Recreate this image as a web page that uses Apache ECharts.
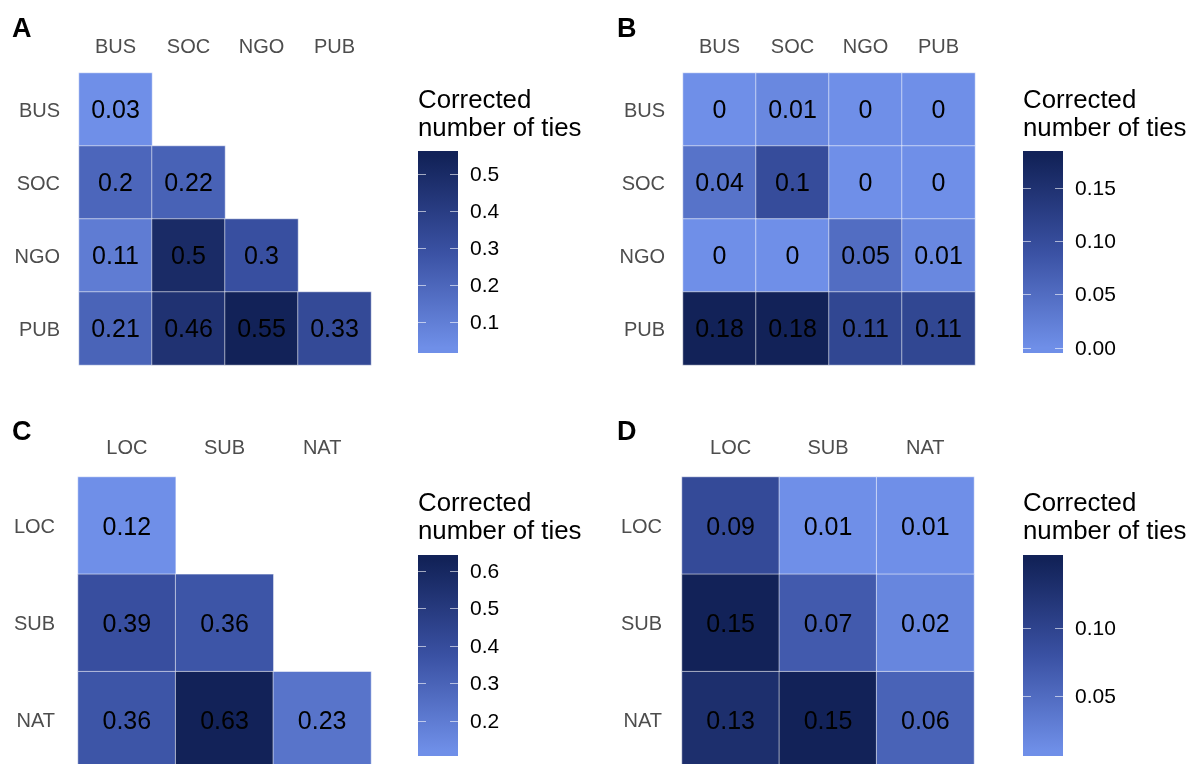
<!DOCTYPE html>
<html>
<head>
<meta charset="utf-8">
<script src="https://cdn.jsdelivr.net/npm/echarts@6/dist/echarts.min.js"></script>
<style>
html,body{margin:0;padding:0;background:#fff;}
#chart{width:1189px;height:764px;}
</style>
</head>
<body>
<div id="chart"></div>
<script>
// ---------- data ----------
const orgCats = ['BUS', 'SOC', 'NGO', 'PUB'];
const levelCats = ['LOC', 'SUB', 'NAT'];

const valuesA = [
  [0.03, null, null, null],
  [0.2, 0.22, null, null],
  [0.11, 0.5, 0.3, null],
  [0.21, 0.46, 0.55, 0.33]
];
const valuesB = [
  [0, 0.01, 0, 0],
  [0.04, 0.1, 0, 0],
  [0, 0, 0.05, 0.01],
  [0.18, 0.18, 0.11, 0.11]
];
const valuesC = [
  [0.12, null, null],
  [0.39, 0.36, null],
  [0.36, 0.63, 0.23]
];
const valuesD = [
  [0.09, 0.01, 0.01],
  [0.15, 0.07, 0.02],
  [0.13, 0.15, 0.06]
];

const breaksA = [0.1, 0.2, 0.3, 0.4, 0.5];
const breaksB = [0.00, 0.05, 0.10, 0.15];
const breaksC = [0.2, 0.3, 0.4, 0.5, 0.6];
const breaksD = [0.05, 0.10];

const panelLetters = ['A', 'B', 'C', 'D'];
const legendTitle = 'Corrected\nnumber of ties';

// ---------- style / layout ----------
const FONT = '"Liberation Sans", Arial, Helvetica, sans-serif';
const LOW = '#6f8fe8', MID = '#3a51a3', HIGH = '#122258';

const panels = [
  { cats: orgCats, values: valuesA, breaks: breaksA, dec: 1,
    grid: {left: 79, top: 73, width: 292, height: 292}, rowMargin: 19, colMargin: 16,
    bar: {left: 418, top: 151, width: 40, height: 202}, titleTop: 87, letter: {left: 12, top: 16} },
  { cats: orgCats, values: valuesB, breaks: breaksB, dec: 2,
    grid: {left: 683, top: 73, width: 292, height: 292}, rowMargin: 18, colMargin: 16,
    bar: {left: 1023, top: 151, width: 40, height: 202}, titleTop: 87, letter: {left: 617, top: 16} },
  { cats: levelCats, values: valuesC, breaks: breaksC, dec: 1,
    grid: {left: 78, top: 477, width: 293, height: 292}, rowMargin: 23, colMargin: 19,
    bar: {left: 418, top: 555, width: 40, height: 201}, titleTop: 490, letter: {left: 12, top: 419} },
  { cats: levelCats, values: valuesD, breaks: breaksD, dec: 2,
    grid: {left: 682, top: 477, width: 292, height: 292}, rowMargin: 20, colMargin: 19,
    bar: {left: 1023, top: 555, width: 40, height: 201}, titleTop: 490, letter: {left: 617, top: 419} }
];

const grids = [], xAxes = [], yAxes = [], series = [], visualMaps = [], titles = [];

panels.forEach((p, i) => {
  const flat = [];
  p.values.forEach((row, r) => row.forEach((v, c) => { if (v !== null) flat.push([c, r, v]); }));
  const vals = flat.map(d => d[2]);
  const lo = Math.min(...vals), hi = Math.max(...vals);
  const half = (hi - lo) / 38; // colourbar half-bin extension (nbin = 20)

  // heatmap grid
  const gi = grids.length;
  grids.push(Object.assign({ outerBoundsMode: 'none', containLabel: false }, p.grid));
  xAxes.push({
    type: 'category', gridIndex: gi, data: p.cats, position: 'top',
    axisLine: {show: false}, axisTick: {show: false}, splitLine: {show: false},
    axisLabel: {color: '#4d4d4d', fontSize: 20, fontFamily: FONT, margin: p.colMargin}
  });
  yAxes.push({
    type: 'category', gridIndex: gi, data: p.cats, inverse: true,
    axisLine: {show: false}, axisTick: {show: false}, splitLine: {show: false},
    axisLabel: {color: '#4d4d4d', fontSize: 20, fontFamily: FONT, margin: p.rowMargin,
                verticalAlign: 'top', lineHeight: 3}
  });
  series.push({
    type: 'heatmap', xAxisIndex: xAxes.length - 1, yAxisIndex: yAxes.length - 1,
    data: flat,
    label: {show: true, color: '#000', fontSize: 25, fontFamily: FONT, offset: [0, 2],
            formatter: prm => String(prm.value[2])},
    itemStyle: {borderColor: 'rgba(255,255,255,0.55)', borderWidth: 1},
    emphasis: {disabled: true}
  });
  visualMaps.push({
    type: 'continuous', show: false, seriesIndex: series.length - 1,
    dimension: 2, min: lo, max: hi, inRange: {color: [LOW, MID, HIGH]}
  });

  // colourbar grid
  const bi = grids.length;
  const off = half / (hi - lo + 2 * half);
  grids.push(Object.assign({
    outerBoundsMode: 'none', containLabel: false, show: true, borderWidth: 0,
    backgroundColor: {
      type: 'linear', x: 0, y: 0, x2: 0, y2: 1,
      colorStops: [
        {offset: 0, color: HIGH}, {offset: off, color: HIGH},
        {offset: 0.5, color: MID},
        {offset: 1 - off, color: LOW}, {offset: 1, color: LOW}
      ]
    }
  }, p.bar));
  xAxes.push({type: 'value', gridIndex: bi, show: false, min: 0, max: 1});
  const fmt = v => v.toFixed(p.dec);
  yAxes.push({
    type: 'value', gridIndex: bi, position: 'right', min: lo - half, max: hi + half,
    axisLine: {show: false},
    axisTick: {show: false, customValues: p.breaks},
    // tick marks at both bar edges: dashed split line 8 on / 24 off / 8 on across the 40px bar
    splitLine: {show: true, lineStyle: {color: 'rgba(255,255,255,0.6)', width: 1, type: [8, 24]}},
    axisLabel: {show: true, margin: 12, color: '#000', fontSize: 21, fontFamily: FONT,
                verticalAlign: 'top', lineHeight: 2, customValues: p.breaks, formatter: fmt}
  });

  titles.push({
    text: legendTitle, left: p.bar.left, top: p.titleTop, padding: 0,
    textStyle: {fontSize: 25.8, lineHeight: 28, fontWeight: 'normal', color: '#000', fontFamily: FONT}
  });
  titles.push({
    text: panelLetters[i], left: p.letter.left, top: p.letter.top, padding: 0,
    textStyle: {fontSize: 27, fontWeight: 'bold', color: '#000', fontFamily: FONT}
  });
});

const chart = echarts.init(document.getElementById('chart'), null, {renderer: 'canvas'});
chart.setOption({
  backgroundColor: '#fff',
  animation: false,
  title: titles,
  grid: grids,
  xAxis: xAxes,
  yAxis: yAxes,
  visualMap: visualMaps,
  series: series
});
</script>
</body>
</html>
